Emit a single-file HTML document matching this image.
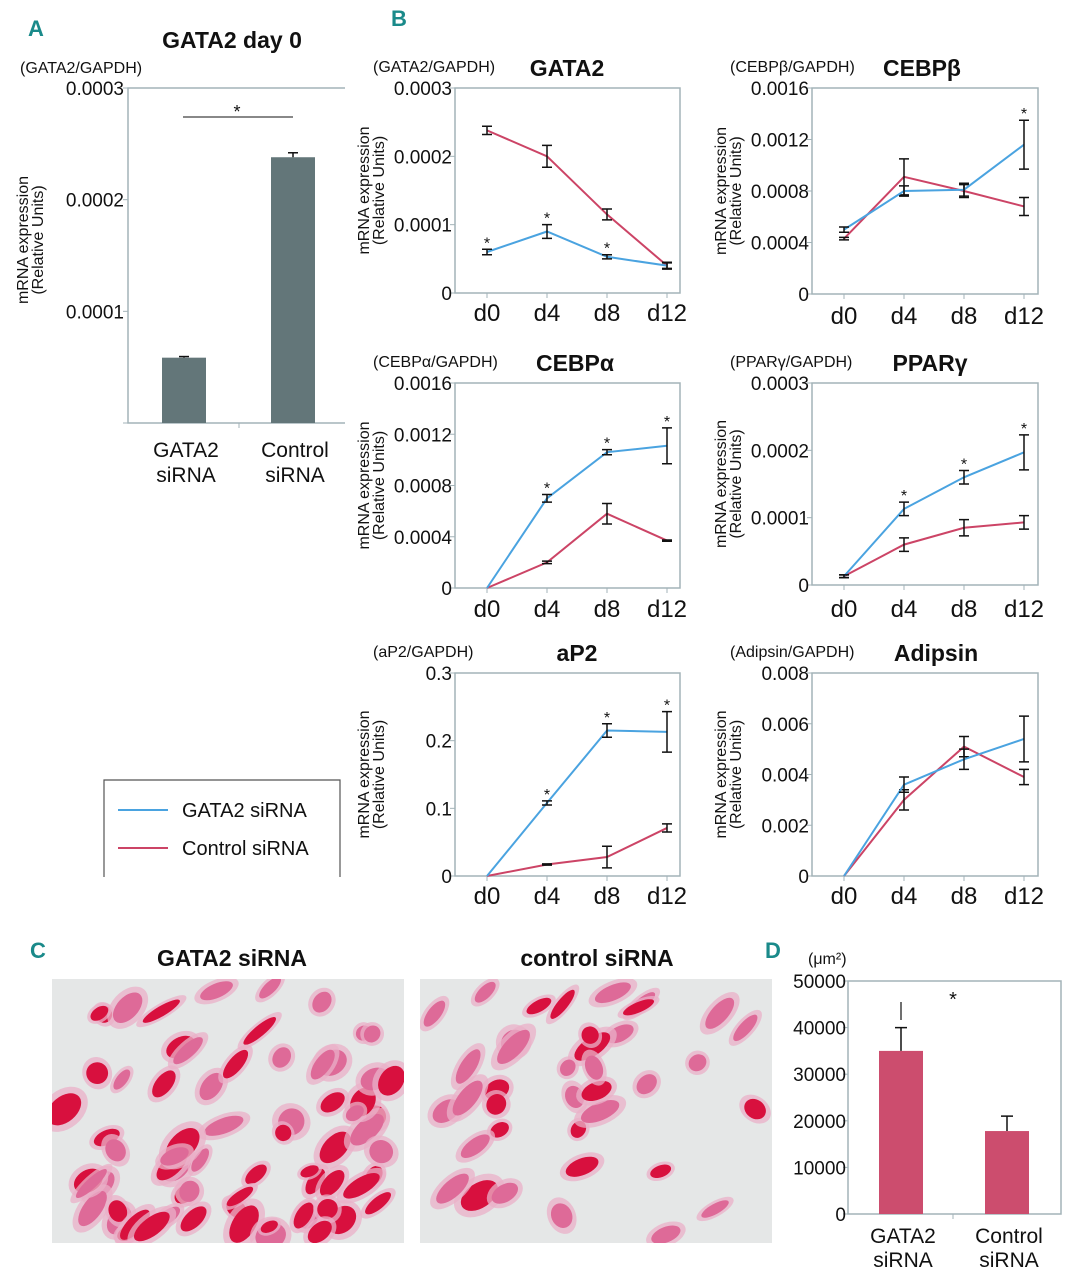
<!DOCTYPE html>
<html><head><meta charset="utf-8">
<style>
html,body{margin:0;padding:0;background:#fff;}
svg{display:block;}
text{font-family:"Liberation Sans Narrow","Liberation Sans",sans-serif;fill:#111;}
.t{font-weight:bold;font-size:23px;}
.lab{font-weight:bold;font-size:22px;fill:#1a8a8a;}
.tick{font-size:19px;}
.unit{font-size:16px;}
.yt{font-size:16px;}
.xl{font-size:21px;}
.day{font-size:24px;}
</style></head>
<body>
<svg id="fig" width="1076" height="1280" viewBox="0 0 1076 1280" xmlns="http://www.w3.org/2000/svg">
<defs>
<clipPath id="clipL"><rect x="52" y="979" width="352" height="264"/></clipPath>
<clipPath id="clipR"><rect x="420" y="979" width="352" height="264"/></clipPath>
</defs>
<g id="root"></g>
</svg>
<script>
// ---- Panel A data ----
const aCategories = ["GATA2 siRNA", "Control siRNA"];
const aValues = [0.0000585, 0.000238];
const aErrors = [0.000001, 0.000004];
const aTicks = [0, 0.0001, 0.0002, 0.0003];
const aTickLabels = ["", "0.0001", "0.0002", "0.0003"];

// ---- Panel B data ----
const days = ["d0", "d4", "d8", "d12"];
const gata2Blue = [0.00006, 0.00009, 0.000053, 0.00004];
const gata2BlueErr = [0.000004, 0.00001, 0.000003, 0.000004];
const gata2Red = [0.000238, 0.0002, 0.000115, 0.00004];
const gata2RedErr = [0.000006, 0.000016, 0.000008, 0.000005];
const gata2Ticks = [0, 0.0001, 0.0002, 0.0003];
const gata2TickLabels = ["0", "0.0001", "0.0002", "0.0003"];

const cebpbBlue = [0.0005, 0.0008, 0.00081, 0.00116];
const cebpbBlueErr = [0.00002, 0.00004, 0.00005, 0.00019];
const cebpbRed = [0.00043, 0.00091, 0.0008, 0.00068];
const cebpbRedErr = [0.00001, 0.00014, 0.00005, 0.00007];
const cebpbTicks = [0, 0.0004, 0.0008, 0.0012, 0.0016];
const cebpbTickLabels = ["0", "0.0004", "0.0008", "0.0012", "0.0016"];

const cebpaBlue = [0, 0.0007, 0.00106, 0.00111];
const cebpaBlueErr = [0, 0.00003, 0.00002, 0.00014];
const cebpaRed = [0, 0.0002, 0.00058, 0.00037];
const cebpaRedErr = [0, 0.00001, 0.00008, 0.000005];
const cebpaTicks = [0, 0.0004, 0.0008, 0.0012, 0.0016];
const cebpaTickLabels = ["0", "0.0004", "0.0008", "0.0012", "0.0016"];

const pparBlue = [0.000013, 0.000113, 0.00016, 0.000197];
const pparBlueErr = [0.000002, 0.00001, 0.00001, 0.000026];
const pparRed = [0.000013, 0.00006, 0.000085, 0.000093];
const pparRedErr = [0.000002, 0.00001, 0.000012, 0.00001];
const pparTicks = [0, 0.0001, 0.0002, 0.0003];
const pparTickLabels = ["0", "0.0001", "0.0002", "0.0003"];

const ap2Blue = [0, 0.108, 0.215, 0.213];
const ap2BlueErr = [0, 0.003, 0.01, 0.03];
const ap2Red = [0, 0.017, 0.028, 0.071];
const ap2RedErr = [0, 0.001, 0.016, 0.006];
const ap2Ticks = [0, 0.1, 0.2, 0.3];
const ap2TickLabels = ["0", "0.1", "0.2", "0.3"];

const adipBlue = [0, 0.0036, 0.0046, 0.0054];
const adipBlueErr = [0, 0.0003, 0.0004, 0.0009];
const adipRed = [0, 0.003, 0.0051, 0.0039];
const adipRedErr = [0, 0.0004, 0.0004, 0.0003];
const adipTicks = [0, 0.002, 0.004, 0.006, 0.008];
const adipTickLabels = ["0", "0.002", "0.004", "0.006", "0.008"];

// ---- Panel D data ----
const dCategories = ["GATA2 siRNA", "Control siRNA"];
const dValues = [35000, 17800];
const dErrors = [5000, 3200];
const dTicks = [0, 10000, 20000, 30000, 40000, 50000];
const dTickLabels = ["0", "10000", "20000", "30000", "40000", "50000"];

const NS = "http://www.w3.org/2000/svg";
const root = document.getElementById("root");
function mk(tag, attrs, parent, txt) {
  const e = document.createElementNS(NS, tag);
  for (const k in attrs) e.setAttribute(k, attrs[k]);
  if (txt !== undefined) e.textContent = txt;
  (parent || root).appendChild(e);
  return e;
}
const BLUE = "#4aa3e0", RED = "#cc4466", BOX = "#a3b3b8";

function ytitle(x, cy) {
  const t = mk("text", {x: 0, y: 0, transform: "translate(" + x + "," + cy + ") rotate(-90)", "text-anchor": "middle", class: "yt"});
  
  
  mk("tspan", {x: 0, dy: 0}, t, "mRNA expression");
  mk("tspan", {x: 0, dy: 15}, t, "(Relative Units)");
}

function label(x, y, s, name) {
  const t = mk("text", {x: x, y: y, class: "lab"}, root, s);
  
  
}
label(28, 36, "A", "panel-label-a");
label(391, 26, "B", "panel-label-b");
label(30, 958, "C", "panel-label-c");
label(765, 958, "D", "panel-label-d");

// ---- Panel A ----
(function () {
  const g = mk("g", {});
  
  
  const L = 128, R = 345, T = 88, B = 423;
  const y = v => B - (v / 0.0003) * (B - T);
  const xc = [184, 293];
  const tt = mk("text", {x: 232, y: 48, "text-anchor": "middle", class: "t"}, g, "GATA2 day 0");
  
  
  const u = mk("text", {x: 20, y: 73, class: "unit"}, g, "(GATA2/GAPDH)");
  
  
  mk("path", {d: `M${R},${T} L${L},${T} L${L},${B} L${R},${B}`, fill: "none", stroke: BOX, "stroke-width": 1.5}, g);
  mk("line", {x1: 239, y1: B, x2: 239, y2: B + 5, stroke: BOX}, g);
  aTicks.forEach((v, i) => {
    mk("line", {x1: L - 5, y1: y(v), x2: L, y2: y(v), stroke: BOX}, g);
    if (aTickLabels[i]) {
      const t = mk("text", {x: L - 4, y: y(v) + 7, "text-anchor": "end", class: "tick"}, g, aTickLabels[i]);
      
      
    }
  });
  aValues.forEach((v, i) => {
    const r = mk("rect", {x: xc[i] - 22, y: y(v), width: 44, height: B - y(v), fill: "#637679"}, g);
    
    
    const ye = y(v + aErrors[i]);
    mk("line", {x1: xc[i], y1: y(v), x2: xc[i], y2: ye, stroke: "#111", "stroke-width": 1.5}, g);
    mk("line", {x1: xc[i] - 5, y1: ye, x2: xc[i] + 5, y2: ye, stroke: "#111", "stroke-width": 1.5}, g);
    const words = aCategories[i].split(" ");
    const t1 = mk("text", {x: xc[i] + 2, y: 457, "text-anchor": "middle", class: "xl"}, g, words[0]);
    
    
    const t2 = mk("text", {x: xc[i] + 2, y: 482, "text-anchor": "middle", class: "xl"}, g, words[1]);
    
    
  });
  mk("line", {x1: 183, y1: 117, x2: 293, y2: 117, stroke: "#111"}, g);
  mk("text", {x: 237, y: 118, "text-anchor": "middle", style: "font-size:18px"}, g, "*");
  ytitle(28, 240);
})();

// ---- Panel B line charts ----
function lineChart(o) {
  const g = mk("g", {});
  
  
  const {L, R, T, B} = o;
  const max = o.ticks[o.ticks.length - 1];
  const y = v => B - (v / max) * (B - T);
  const x = i => L + 32 + i * 60;
  const tt = mk("text", {x: o.titleX, y: T - 12, "text-anchor": "middle", class: "t"}, g, o.title);
  
  
  const u = mk("text", {x: L - 82, y: T - 16, class: "unit"}, g, o.unit);
  
  
  mk("rect", {x: L, y: T, width: R - L, height: B - T, fill: "none", stroke: BOX, "stroke-width": 1.5}, g);
  o.ticks.forEach((v, i) => {
    mk("line", {x1: L - 5, y1: y(v), x2: L, y2: y(v), stroke: BOX}, g);
    const t = mk("text", {x: L - 3, y: y(v) + 7, "text-anchor": "end", class: "tick"}, g, o.tickLabels[i]);
    
    
  });
  days.forEach((d, i) => {
    mk("line", {x1: x(i), y1: B, x2: x(i), y2: B + 5, stroke: BOX}, g);
    const t = mk("text", {x: x(i), y: B + o.xoff, "text-anchor": "middle", class: "day"}, g, d);
    
    
  });
  [[o.red, o.redErr, RED, 'control-sirna-line'], [o.blue, o.blueErr, BLUE, 'gata2-sirna-line']].forEach(([vals, errs, col, nm]) => {
    const p = mk("polyline", {points: vals.map((v, i) => x(i) + "," + y(v)).join(" "), fill: "none", stroke: col, "stroke-width": 2}, g);
    
    
    vals.forEach((v, i) => {
      if (errs[i] <= 0) return;
      const y1 = y(v - errs[i]), y2 = y(v + errs[i]);
      mk("path", {d: `M${x(i)},${y1}V${y2}M${x(i) - 5},${y1}h10M${x(i) - 5},${y2}h10`, stroke: "#111", "stroke-width": 1.5, fill: "none"}, g);
    });
  });
  o.stars.forEach(i => {
    const top = Math.min(y(o.blue[i] + o.blueErr[i]), y(o.red[i] + o.redErr[i]));
    const ref = o.starBlue ? y(o.blue[i] + o.blueErr[i]) : top;
    const s = mk("text", {x: x(i), y: ref - 1, "text-anchor": "middle", style: "font-size:16px"}, g, "*");
    
    
  });
  ytitle(L - 86, (T + B) / 2);
}
lineChart({name: "gata2-chart", L: 455, R: 680, T: 88, B: 293, title: "GATA2", titleX: 567, unit: "(GATA2/GAPDH)", ticks: gata2Ticks, tickLabels: gata2TickLabels, blue: gata2Blue, blueErr: gata2BlueErr, red: gata2Red, redErr: gata2RedErr, stars: [0, 1, 2], starBlue: true, xoff: 28});
lineChart({name: "cebpb-chart", L: 812, R: 1038, T: 88, B: 294, title: "CEBPβ", titleX: 922, unit: "(CEBPβ/GAPDH)", ticks: cebpbTicks, tickLabels: cebpbTickLabels, blue: cebpbBlue, blueErr: cebpbBlueErr, red: cebpbRed, redErr: cebpbRedErr, stars: [3], xoff: 30});
lineChart({name: "cebpa-chart", L: 455, R: 680, T: 383, B: 588, title: "CEBPα", titleX: 575, unit: "(CEBPα/GAPDH)", ticks: cebpaTicks, tickLabels: cebpaTickLabels, blue: cebpaBlue, blueErr: cebpaBlueErr, red: cebpaRed, redErr: cebpaRedErr, stars: [1, 2, 3], xoff: 29});
lineChart({name: "ppar-gamma-chart", L: 812, R: 1038, T: 383, B: 585, title: "PPARγ", titleX: 930, unit: "(PPARγ/GAPDH)", ticks: pparTicks, tickLabels: pparTickLabels, blue: pparBlue, blueErr: pparBlueErr, red: pparRed, redErr: pparRedErr, stars: [1, 2, 3], xoff: 32});
lineChart({name: "ap2-chart", L: 455, R: 680, T: 673, B: 876, title: "aP2", titleX: 577, unit: "(aP2/GAPDH)", ticks: ap2Ticks, tickLabels: ap2TickLabels, blue: ap2Blue, blueErr: ap2BlueErr, red: ap2Red, redErr: ap2RedErr, stars: [1, 2, 3], xoff: 28});
lineChart({name: "adipsin-chart", L: 812, R: 1038, T: 673, B: 876, title: "Adipsin", titleX: 936, unit: "(Adipsin/GAPDH)", ticks: adipTicks, tickLabels: adipTickLabels, blue: adipBlue, blueErr: adipBlueErr, red: adipRed, redErr: adipRedErr, stars: [], xoff: 28});

// ---- Legend ----
(function () {
  const g = mk("g", {});
  
  
  mk("path", {d: "M104,877V780H340V877", fill: "none", stroke: "#555", "stroke-width": 1.2}, g);
  [[BLUE, "GATA2 siRNA", 810], [RED, "Control siRNA", 848]].forEach(([c, s, yy]) => {
    const e = mk("g", {}, g);
    
    
    mk("line", {x1: 118, y1: yy, x2: 168, y2: yy, stroke: c, "stroke-width": 2}, e);
    mk("text", {x: 182, y: yy + 7, class: "xl", style: "font-size:20px"}, e, s);
  });
})();

// ---- Panel C micrographs ----
function micro(x0, title, tx, dens, name, clip) {
  const g = mk("g", {});
  
  
  const t = mk("text", {x: tx, y: 966, "text-anchor": "middle", class: "t"}, g, title);
  
  
  const ig = mk("g", {"clip-path": "url(#" + clip + ")"}, g);
  mk("rect", {x: x0, y: 979, width: 352, height: 264, fill: "#e5e7e7"}, ig);
  let s = dens * 97 + 13;
  const rnd = () => { s = (s * 9301 + 49297) % 233280; return s / 233280; };
  for (let i = 0; i < dens; i++) {
    const cx = x0 + 8 + rnd() * 336, cy = 985 + rnd() * 252;
    const rx = 8 + rnd() * 14, ry = 5 + rnd() * 8, a = -60 + rnd() * 40;
    const strong = rnd() < 0.5;
    mk("ellipse", {cx: cx, cy: cy, rx: rx * 1.35, ry: ry * 1.5, transform: `rotate(${a} ${cx} ${cy})`, fill: "#eab0c8", opacity: 0.75}, ig);
    mk("ellipse", {cx: cx, cy: cy, rx: rx, ry: ry, transform: `rotate(${a} ${cx} ${cy})`, fill: strong ? "#d8103e" : "#de6a98"}, ig);
  }
}
micro(52, "GATA2 siRNA", 232, 70, "gata2-sirna-micrograph", "clipL");
micro(420, "control siRNA", 597, 38, "control-sirna-micrograph", "clipR");

// ---- Panel D ----
(function () {
  const g = mk("g", {});
  
  
  const L = 848, R = 1061, T = 981, B = 1214;
  const y = v => B - (v / 50000) * (B - T);
  const xc = [901, 1007];
  const u = mk("text", {x: 808, y: 964, class: "unit"}, g, "(μm²)");
  
  
  mk("rect", {x: L, y: T, width: R - L, height: B - T, fill: "none", stroke: BOX, "stroke-width": 1.5}, g);
  dTicks.forEach((v, i) => {
    mk("line", {x1: L - 5, y1: y(v), x2: L, y2: y(v), stroke: BOX}, g);
    const t = mk("text", {x: L - 2, y: y(v) + 7, "text-anchor": "end", class: "tick"}, g, dTickLabels[i]);
    
    
  });
  mk("line", {x1: 953, y1: B, x2: 953, y2: B + 5, stroke: BOX}, g);
  dValues.forEach((v, i) => {
    const r = mk("rect", {x: xc[i] - 22, y: y(v), width: 44, height: B - y(v), fill: "#cc4d6e"}, g);
    
    
    const ye = y(v + dErrors[i]);
    mk("path", {d: `M${xc[i]},${y(v)}V${ye}M${xc[i] - 6},${ye}h12`, stroke: "#111", "stroke-width": 1.5, fill: "none"}, g);
    const words = dCategories[i].split(" ");
    const t1 = mk("text", {x: xc[i] + 2, y: 1243, "text-anchor": "middle", class: "xl"}, g, words[0]);
    
    
    const t2 = mk("text", {x: xc[i] + 2, y: 1267, "text-anchor": "middle", class: "xl"}, g, words[1]);
    
    
  });
  mk("line", {x1: 901, y1: 1002, x2: 901, y2: 1020, stroke: "#111", "stroke-width": 1.2}, g);
  const s = mk("text", {x: 953, y: 1006, "text-anchor": "middle", style: "font-size:20px"}, g, "*");
  
  
})();
</script>
</body></html>
